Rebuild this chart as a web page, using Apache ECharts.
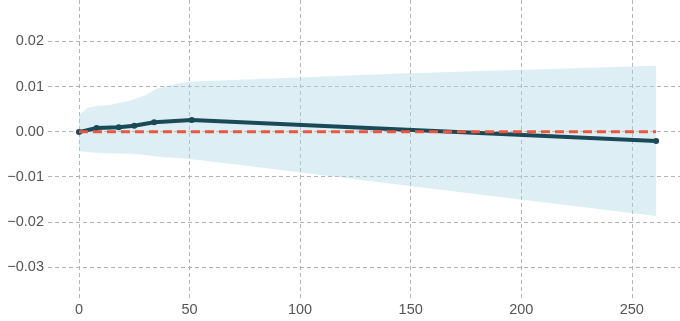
<!DOCTYPE html>
<html>
<head>
<meta charset="utf-8">
<script src="https://cdn.jsdelivr.net/npm/echarts@6/dist/echarts.min.js"></script>
<style>
html,body{margin:0;padding:0;background:#fff;}
#chart{width:680px;height:321px;}
</style>
</head>
<body>
<div id="chart"></div>
<script>
// Impulse response horizons and values
const horizon = [0, 8, 18, 25, 34, 51, 261];
const irf = [-0.0001, 0.0008, 0.0010, 0.0013, 0.0021, 0.0026, -0.0021];

// Confidence band
const bandX = [0, 4, 8, 14, 24, 30, 35, 46, 51, 73, 145, 261];
const bandUpper = [0.0037, 0.0053, 0.0057, 0.0059, 0.0070, 0.0081, 0.0095, 0.0108, 0.0111, 0.0115, 0.0129, 0.0146];
const bandLower = [-0.0043, -0.0045, -0.0047, -0.0048, -0.0049, -0.0052, -0.0055, -0.0059, -0.0061, -0.0074, -0.0118, -0.0187];

// Reference zero line
const zeroX = [0, 261];
const zeroY = [0, 0];

// Axis ticks
const xTicks = [0, 50, 100, 150, 200, 250];
const yTicks = [-0.03, -0.02, -0.01, 0.00, 0.01, 0.02];

const chart = echarts.init(document.getElementById('chart'), null, {renderer: 'canvas'});

const bandData = bandX.map((x, i) => [x, bandLower[i], bandUpper[i]]);
const lineData = horizon.map((x, i) => [x, irf[i]]);
const zeroData = zeroX.map((x, i) => [x, zeroY[i]]);

const gridLine = {show: true, showMinLine: false, showMaxLine: false, lineStyle: {color: '#b4b4b4', width: 1, type: [4, 3]}};
const labelStyle = {color: '#555555', fontSize: 14.5, fontFamily: 'Liberation Sans, Arial, sans-serif', showMinLabel: false, showMaxLabel: false};

chart.setOption({
  animation: false,
  backgroundColor: '#ffffff',
  grid: {left: 48, right: 0, top: 0, bottom: 23, containLabel: false},
  xAxis: {
    type: 'value', min: -14, max: 271.8, splitNumber: 6,
    axisLine: {show: false}, axisTick: {show: false},
    splitLine: gridLine,
    axisLabel: Object.assign({}, labelStyle, {
      margin: 4,
      formatter: v => xTicks.includes(v) ? String(v) : ''
    })
  },
  yAxis: {
    type: 'value', min: -0.0369, max: 0.0292, splitNumber: 6,
    axisLine: {show: false}, axisTick: {show: false},
    splitLine: gridLine,
    axisLabel: Object.assign({}, labelStyle, {
      margin: 4,
      formatter: v => {
        const r = Math.round(v * 100) / 100;
        if (!yTicks.some(t => Math.abs(t - r) < 1e-9) || Math.abs(v - r) > 1e-9) return '';
        const s = Math.abs(r).toFixed(2);
        return r < 0 ? '\u2212' + s : s;
      }
    })
  },
  series: [
    {
      type: 'custom',
      data: [0],
      silent: true,
      z: 1,
      renderItem: (params, api) => {
        const top = bandData.map(d => api.coord([d[0], d[2]]));
        const bottom = bandData.map(d => api.coord([d[0], d[1]])).reverse();
        return {
          type: 'polygon',
          shape: {points: top.concat(bottom)},
          style: {fill: 'rgba(173,216,230,0.42)', stroke: 'none'}
        };
      }
    },
    {
      type: 'line', data: lineData, symbol: 'circle', symbolSize: 6,
      itemStyle: {color: '#1a4a58'},
      lineStyle: {color: '#1a4a58', width: 4}, z: 3
    },
    {
      type: 'line', data: zeroData, symbol: 'none',
      lineStyle: {color: '#e9573c', width: 3, type: [9, 5]}, z: 4
    }
  ]
});
</script>
</body>
</html>
